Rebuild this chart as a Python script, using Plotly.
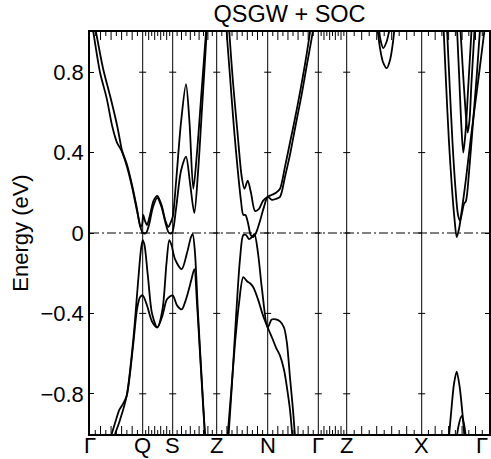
import plotly.graph_objects as go

# ---------------- data ----------------
HS_K = [0, 52.7, 82.7, 126.7, 177.7, 228.3, 256.7, 331.7, 399]
HS_LABELS = ["Γ", "Q", "S", "Z", "N", "Γ", "Z", "X", "Γ"]
NK_PER_SEGMENT = 10
Y_TICKS = [-0.8, -0.4, 0, 0.4, 0.8]
Y_TICK_TEXT = ["−0.8", "−0.4", "0", "0.4", "0.8"]

# Γ-Q-S-Z : conduction pair
K_C1_A = [3, 6, 13, 20.7, 27.3, 30, 32, 37, 42, 47, 50.5, 52, 53.3, 55, 57, 60, 63.5, 67.3, 71.5, 75.5, 78.3, 80.5, 82.7, 86, 91, 96, 99.5, 103.3, 107, 111.5, 116, 117]
E_C1_A = [1.08, 1.0, 0.82, 0.67, 0.53, 0.46, 0.41, 0.34, 0.24, 0.12, 0.03, 0.04, 0.09, 0.06, 0.04, 0.09, 0.16, 0.185, 0.14, 0.06, 0.03, 0.05, 0.08, 0.25, 0.55, 0.74, 0.55, 0.22, 0.40, 0.70, 1.0, 1.08]
K_C2_A = [0.5, 3.3, 10, 16.7, 22.3, 27, 31.5, 37, 42, 47, 51, 53, 56, 59, 63, 67.3, 71.5, 75.5, 79, 82, 86, 91, 96, 100, 104.3, 108, 112, 116.7, 117.5]
E_C2_A = [1.08, 1.0, 0.80, 0.67, 0.53, 0.45, 0.41, 0.33, 0.23, 0.11, 0.02, 0.0, 0.0, 0.04, 0.13, 0.175, 0.13, 0.05, 0.0, 0.0, 0.12, 0.31, 0.38, 0.25, 0.10, 0.30, 0.62, 1.0, 1.08]
# Γ-Q-S-Z : valence pair
K_V1_A = [25, 30, 36.7, 43.3, 48.3, 51, 52.7, 54.5, 58, 62, 67.3, 72.5, 76.5, 79.3, 81.5, 85, 91.7, 97, 101, 102.7, 105, 108, 112, 115.5]
E_V1_A = [-1.0, -0.93, -0.81, -0.53, -0.23, -0.08, -0.035, -0.06, -0.22, -0.40, -0.47, -0.38, -0.15, -0.035, -0.06, -0.13, -0.18, -0.10, -0.02, -0.005, -0.10, -0.40, -0.75, -1.05]
K_V2_A = [21.7, 26, 29.3, 33, 36.7, 43.3, 47, 50, 52.7, 57, 62, 67.3, 72.5, 77, 82.7, 87, 91.7, 96, 101, 104.3, 107, 110, 113, 115.5]
E_V2_A = [-1.0, -0.93, -0.88, -0.85, -0.81, -0.55, -0.38, -0.32, -0.31, -0.36, -0.44, -0.47, -0.41, -0.33, -0.31, -0.36, -0.38, -0.33, -0.24, -0.18, -0.35, -0.60, -0.85, -1.05]

# Z-N-Γ : conduction pair
K_C1_B = [138.5, 139.3, 143, 147.5, 151.7, 154.5, 157.7, 161, 165, 169, 173, 177.7, 182, 186, 190, 195, 200, 205, 210, 215, 220, 221]
E_C1_B = [1.08, 1.0, 0.75, 0.50, 0.28, 0.22, 0.26, 0.20, 0.11, 0.12, 0.16, 0.18, 0.19, 0.20, 0.22, 0.33, 0.45, 0.57, 0.70, 0.84, 1.0, 1.05]
K_C2_B = [136, 136.7, 140, 144, 148, 151, 153.3, 155.5, 158, 160.7, 163, 166, 170, 174, 177.7, 182, 186, 190, 195, 200, 205, 211.7, 217, 222.7, 223.5]
E_C2_B = [1.08, 1.0, 0.78, 0.52, 0.30, 0.16, 0.09, 0.09, 0.05, -0.01, -0.02, 0.0, 0.06, 0.13, 0.18, 0.165, 0.17, 0.18, 0.28, 0.39, 0.52, 0.69, 0.84, 1.0, 1.05]
# Z-N-Γ : valence pair
K_V1_B = [138, 142, 146, 150, 153.3, 156, 159, 162, 164.5, 168, 172, 177.7, 181.7, 186, 190, 194, 197, 200, 203, 205.5]
E_V1_B = [-1.05, -0.75, -0.42, -0.13, -0.01, -0.01, -0.03, -0.02, -0.005, -0.10, -0.28, -0.47, -0.43, -0.43, -0.44, -0.47, -0.55, -0.72, -0.88, -1.05]
K_V2_B = [137, 141, 145, 149, 153.3, 157, 160, 163.3, 168, 173, 177.7, 182, 186, 190, 194, 197, 200, 203]
E_V2_B = [-1.05, -0.80, -0.55, -0.35, -0.22, -0.24, -0.25, -0.27, -0.33, -0.41, -0.47, -0.52, -0.57, -0.61, -0.68, -0.77, -0.88, -1.05]

# Z-X : small pocket
K_P1 = [286.7, 290, 293, 296.7, 300, 303, 305]
E_P1 = [1.05, 0.92, 0.85, 0.82, 0.86, 0.95, 1.05]
K_P2 = [288.3, 290.5, 293.3, 296.5, 299, 301.7]
E_P2 = [1.05, 0.96, 0.92, 0.95, 1.0, 1.05]

# X-Γ : conduction
K_XA = [353.3, 356, 359, 362, 364.5, 366.7, 369, 372, 376, 381, 386.7, 391, 395.5]
E_XA = [1.05, 0.75, 0.45, 0.22, 0.07, -0.02, 0.02, 0.12, 0.27, 0.48, 0.70, 0.87, 1.05]
K_XB = [356.7, 359.5, 362.5, 365.5, 368, 370, 372, 374, 376, 379, 383, 387, 390.5]
E_XB = [1.05, 0.75, 0.45, 0.22, 0.09, 0.06, 0.10, 0.145, 0.16, 0.30, 0.55, 0.80, 1.05]
K_XC = [366.7, 369, 371.5, 373.3, 375.5, 378.5, 382]
E_XC = [1.05, 0.80, 0.52, 0.40, 0.50, 0.75, 1.05]
K_XD = [370, 373, 376, 377.7, 379.5, 381.5, 385]
E_XD = [1.05, 0.80, 0.58, 0.50, 0.56, 0.75, 1.05]
# X-Γ : valence
K_XV1 = [358.3, 361, 364, 366.7, 369.5, 372.5, 375]
E_XV1 = [-1.05, -0.90, -0.75, -0.69, -0.76, -0.90, -1.05]
K_XV2 = [366, 368.5, 371.7, 374, 376.7]
E_XV2 = [-1.05, -0.96, -0.91, -0.95, -1.05]

BANDS = [
    (K_C1_A, E_C1_A), (K_C2_A, E_C2_A), (K_V1_A, E_V1_A), (K_V2_A, E_V2_A),
    (K_C1_B, E_C1_B), (K_C2_B, E_C2_B), (K_V1_B, E_V1_B), (K_V2_B, E_V2_B),
    (K_P1, E_P1), (K_P2, E_P2),
    (K_XA, E_XA), (K_XB, E_XB), (K_XC, E_XC), (K_XD, E_XD),
    (K_XV1, E_XV1), (K_XV2, E_XV2),
]

FONT = "Liberation Sans, Arial, Helvetica, sans-serif"
W, H = 491, 459
M_L, M_R, M_T, M_B = 90, 2, 32, 25
PLOT_H = H - M_T - M_B
LONG_TICK_PX, SHORT_TICK_PX = 8, 4

fig = go.Figure()
for k, e in BANDS:
    fig.add_trace(go.Scatter(x=k, y=e, mode="lines",
                             line=dict(color="black", width=1.8, shape="spline", smoothing=0.8),
                             showlegend=False, hoverinfo="skip"))

# small y-ticks on the interior high-symmetry lines
mx, my = [], []
for kk in HS_K[1:-1]:
    for yy in Y_TICKS:
        mx.append(kk)
        my.append(yy)
fig.add_trace(go.Scatter(x=mx, y=my, mode="markers",
                         marker=dict(symbol="line-ew", size=5, line=dict(color="black", width=1)),
                         showlegend=False, hoverinfo="skip"))

# high-symmetry vertical lines
for kk in HS_K[1:-1]:
    fig.add_shape(type="line", xref="x", x0=kk, x1=kk, yref="paper", y0=0, y1=1,
                  line=dict(color="black", width=1), layer="below")

# k-point ticks on bottom and top edges (long at even points, short at odd)
for a, b in zip(HS_K[:-1], HS_K[1:]):
    for j in range(1, NK_PER_SEGMENT):
        pos = a + j * (b - a) / NK_PER_SEGMENT
        tl = (LONG_TICK_PX if j % 2 == 0 else SHORT_TICK_PX) / PLOT_H
        fig.add_shape(type="line", xref="x", x0=pos, x1=pos, yref="paper", y0=0, y1=tl,
                      line=dict(color="black", width=1))
        fig.add_shape(type="line", xref="x", x0=pos, x1=pos, yref="paper", y0=1 - tl, y1=1,
                      line=dict(color="black", width=1))

# Fermi level
fig.add_shape(type="line", xref="paper", x0=0, x1=1, yref="y", y0=0, y1=0,
              line=dict(color="black", width=1, dash="9px,3px,2px,3px"))

# high-symmetry labels
last = len(HS_K) - 1
for i, (kk, lab) in enumerate(zip(HS_K, HS_LABELS)):
    fig.add_annotation(x=kk, xref="x", y=0, yref="paper", text=lab, showarrow=False,
                       xanchor="right" if i == last else "center",
                       xshift=1 if i == last else 0,
                       yanchor="middle", yshift=-11,
                       font=dict(family=FONT, size=22, color="black"))

x_range = [HS_K[0], HS_K[-1]]
fig.update_layout(
    width=W, height=H, autosize=False,
    margin=dict(l=M_L, r=M_R, t=M_T, b=M_B),
    paper_bgcolor="white", plot_bgcolor="white",
    font=dict(family=FONT, size=22, color="black"),
    title=dict(text="QSGW + SOC", x=0.5, xref="paper", xanchor="center",
               y=1 - 14 / H, yref="container", yanchor="middle",
               font=dict(family=FONT, size=23.5, color="black")),
    xaxis=dict(range=x_range, showticklabels=False, ticks="", showgrid=False,
               zeroline=False, showline=True, linecolor="black", linewidth=1.5, mirror=True,
               automargin=False),
    yaxis=dict(range=[-1, 1], tickmode="array", tickvals=Y_TICKS, ticktext=Y_TICK_TEXT,
               ticks="inside", ticklen=4, tickwidth=1, tickcolor="black", mirror="ticks",
               showline=True, linecolor="black", linewidth=1.5, showgrid=False, zeroline=False,
               tickfont=dict(size=22), automargin=False,
               title=dict(text="Energy (eV)", font=dict(size=22), standoff=6)),
)

fig.write_html("out.html", config={"responsive": False, "displayModeBar": False},
               post_script="document.body.style.margin='0px';document.body.style.overflow='hidden';")
